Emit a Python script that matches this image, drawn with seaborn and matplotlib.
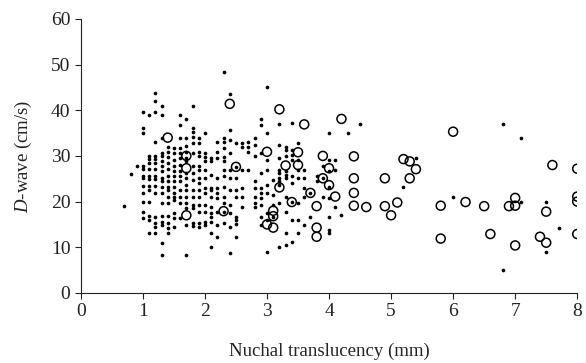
import pandas as pd
import numpy as np
from matplotlib import pyplot as plt
import seaborn as sns

# Small dots: nuchal translucency columns (mm) and D-wave values (cm/s) in each
dot_nt = [0.7, 0.8, 0.9, 1.0, 1.1, 1.2, 1.3, 1.4, 1.5, 1.6, 1.7, 1.8, 1.9, 2.0,
          2.1, 2.2, 2.3, 2.4, 2.5, 2.6, 2.7, 2.8, 2.9, 3.0, 3.1, 3.2, 3.3, 3.4,
          3.5, 3.6, 3.7, 3.8, 3.9, 4.0, 4.1, 4.2, 4.3, 4.5, 5.2, 5.4, 6.0, 6.8,
          7.1, 7.5, 7.7]
dot_dwave = [
    [19.0], [26.0], [27.8],
    [39.6, 36.2, 35.0, 27.8, 27.1, 25.6, 25.1, 23.4, 21.8, 20.0, 17.8, 16.4],
    [38.9, 30.0, 29.3, 28.5, 27.1, 25.6, 24.9, 23.4, 22.6, 20.0, 16.9, 16.0, 13.1],
    [43.7, 42.1, 39.6, 33.0, 30.0, 29.3, 28.5, 27.1, 25.6, 24.9, 23.4, 21.8, 16.7, 15.3, 14.5, 13.1],
    [41.0, 38.9, 34.0, 30.7, 30.0, 28.8, 27.8, 26.6, 25.1, 24.4, 23.3, 21.8, 19.6, 16.9, 15.6, 14.9, 11.0, 8.3],
    [32.0, 30.9, 29.8, 28.5, 27.1, 25.6, 24.4, 23.3, 22.6, 21.1, 19.6, 16.9, 15.3, 14.2, 13.1],
    [31.7, 30.7, 29.1, 27.7, 26.6, 25.6, 24.4, 23.3, 21.8, 21.1, 20.4, 17.5, 16.4, 14.5],
    [39.0, 36.8, 33.9, 31.7, 30.7, 29.5, 28.0, 26.6, 25.5, 24.4, 22.6, 21.1, 19.6, 16.4],
    [38.0, 33.9, 32.2, 30.9, 29.5, 28.8, 26.2, 25.1, 23.6, 22.6, 21.1, 19.6, 18.5, 14.9, 8.3],
    [41.0, 36.1, 35.3, 34.2, 32.8, 30.6, 27.8, 26.2, 24.7, 22.6, 21.1, 19.3, 18.5, 15.4, 14.7],
    [33.9, 32.8, 30.9, 30.0, 27.8, 26.9, 25.1, 24.0, 22.6, 21.1, 19.3, 17.8, 15.3, 14.5],
    [35.0, 30.7, 29.8, 28.8, 26.9, 25.1, 22.9, 21.8, 19.3, 17.8, 15.6, 14.9],
    [29.5, 28.8, 25.8, 22.9, 22.6, 21.1, 18.9, 17.5, 16.7, 15.6, 13.1, 10.1],
    [33.1, 30.9, 29.5, 25.1, 22.9, 21.8, 20.7, 17.8, 14.9, 12.3],
    [48.4, 33.9, 33.1, 31.7, 29.8, 28.8, 26.9, 25.5, 23.3, 21.1, 19.6, 17.8, 15.3],
    [43.6, 35.7, 33.5, 30.6, 26.9, 25.1, 22.6, 19.3, 17.5, 14.5, 8.8],
    [32.8, 27.6, 25.1, 22.5, 21.1, 16.7, 16.0, 15.2, 12.3],
    [32.8, 32.0, 26.9, 22.9, 21.1, 18.9],
    [33.1, 32.0, 30.9, 26.9],
    [33.9, 32.4, 30.0, 24.4, 22.9, 21.1, 19.6, 18.9],
    [38.0, 36.8, 30.6, 26.2, 22.9, 21.8, 20.7, 19.3, 16.7, 14.9],
    [45.0, 35.0, 29.1, 26.9, 23.6, 21.8, 17.4, 16.0, 9.0],
    [24.7, 21.5, 19.3, 16.7],
    [36.9, 32.4, 29.5, 26.9, 26.2, 25.1, 24.4, 23.6, 19.6, 10.1],
    [32.0, 31.3, 30.0, 26.6, 25.8, 25.1, 21.1, 17.8, 13.1, 10.5],
    [37.2, 31.3, 30.2, 29.1, 25.5, 24.0, 19.8, 16.0, 11.2],
    [32.8, 29.1, 26.9, 25.1, 19.6, 16.0, 13.1],
    [26.9, 25.1, 22.9, 21.1, 14.9],
    [21.8, 16.7],
    [25.5, 24.4],
    [27.7, 25.1, 21.1],
    [35.0, 29.1, 26.6, 23.3, 20.7, 16.7, 13.8, 13.1],
    [29.1, 26.9, 18.9],
    [17.1], [35.0], [36.9], [23.1], [29.5], [21.1],
    [36.9, 5.0], [34.0, 19.9], [19.9, 8.9], [14.3],
]

# Open circles
circle_nt = [1.4, 1.7, 1.7, 1.7, 2.3, 2.4, 2.5, 3.0, 3.0, 3.1, 3.1, 3.1, 3.2, 3.2,
             3.3, 3.4, 3.5, 3.5, 3.6, 3.7, 3.8, 3.8, 3.8, 3.9, 3.9, 4.0, 4.0, 4.1,
             4.2, 4.4, 4.4, 4.4, 4.4, 4.6, 4.9, 4.9, 5.0, 5.1, 5.2, 5.3, 5.4, 5.3,
             5.8, 5.8, 6.0, 6.2, 6.5, 6.6, 6.9, 7.0, 7.0, 7.0, 7.4, 7.5, 7.5, 7.6,
             8.0, 8.0, 8.0, 8.0]
circle_dwave = [34.0, 30.0, 27.3, 17.0, 17.9, 41.4, 27.6, 30.9, 15.0, 14.3, 18.0, 16.8, 40.2, 23.1,
                27.9, 19.9, 30.8, 28.0, 36.9, 21.9, 19.0, 14.3, 12.3, 30.0, 25.1, 27.3, 23.6, 21.1,
                38.1, 29.9, 25.1, 21.9, 19.1, 18.8, 25.1, 19.0, 17.0, 19.8, 29.3, 28.8, 27.1, 25.1,
                19.1, 11.9, 35.3, 19.9, 19.0, 12.9, 19.0, 20.8, 19.1, 10.4, 12.3, 11.0, 17.8, 28.0,
                27.2, 21.1, 20.0, 12.9]

dots = pd.DataFrame([(x, y) for x, ys in zip(dot_nt, dot_dwave) for y in ys],
                    columns=["nt", "dwave"])
circles = pd.DataFrame({"nt": circle_nt, "dwave": circle_dwave})

sns.set_style("ticks")
plt.rcParams["font.family"] = ["Liberation Serif", "DejaVu Serif"]
plt.rcParams["mathtext.fontset"] = "custom"
plt.rcParams["mathtext.it"] = "Liberation Serif:italic"
plt.rcParams["mathtext.rm"] = "Liberation Serif"

fig = plt.figure(figsize=(5.86, 3.63), dpi=100)
ax = fig.add_axes([0.138, 0.193, 0.847, 0.755])

sns.scatterplot(data=dots, x="nt", y="dwave", ax=ax, color="black", s=7,
                linewidth=0, marker="o")
sns.scatterplot(data=circles, x="nt", y="dwave", ax=ax, facecolor="none",
                edgecolor="black", s=42, linewidth=1.1, marker="o")

ax.set_xlim(0, 8)
ax.set_ylim(0, 60)
ax.set_xticks(range(0, 9))
ax.set_yticks(range(0, 61, 10))
ax.set_xlabel("Nuchal translucency (mm)", fontsize=13.5, color="#222222", labelpad=16)
ax.set_ylabel(r"$\mathit{D}$-wave (cm/s)", fontsize=13.5, color="#222222", labelpad=12)
ax.tick_params(labelsize=14, length=4, width=0.8, colors="#222222", direction="out")
for side in ["left", "bottom"]:
    ax.spines[side].set_linewidth(0.8)
    ax.spines[side].set_color("#222222")
sns.despine(ax=ax)

plt.savefig("out.png", dpi=100)
